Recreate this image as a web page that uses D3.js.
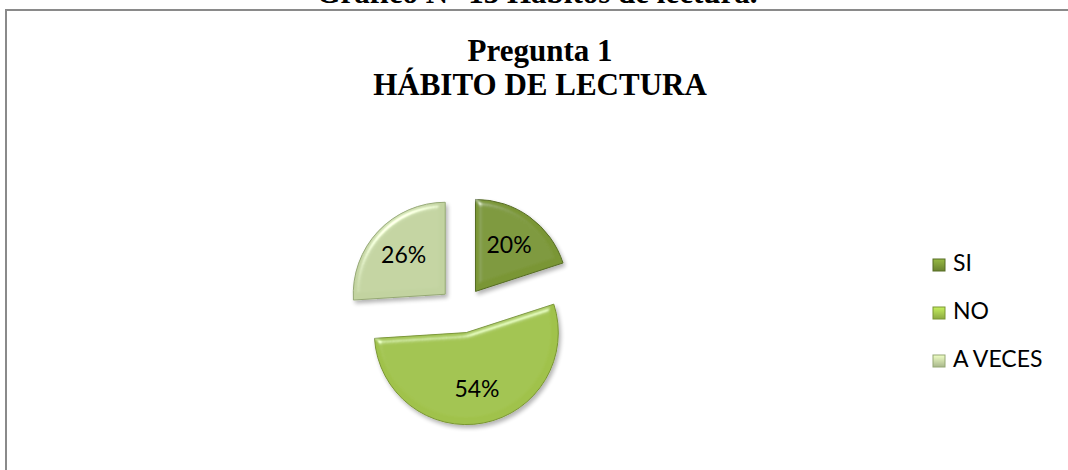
<!DOCTYPE html>
<html>
<head>
<meta charset="utf-8">
<script src="https://cdn.jsdelivr.net/npm/d3@7"></script>
<style>
  body { margin: 0; background: #fff; }
  svg { display: block; }
</style>
</head>
<body>
<div id="chart"></div>
<script>
// data
const categories = ["SI", "NO", "A VECES"];
const values = [20, 54, 26];
const valueLabels = ["20%", "54%", "26%"];
const titleLines = ["Pregunta 1", "HÁBITO DE LECTURA"];
const caption = "Gráfico N° 13 Hábitos de lectura.";

const fills = ["#7a9636", "#a0c24c", "#c2d3a0"];
const edges = ["#566c24", "#7a9632", "#95a874"];

const width = 1068, height = 470;
const svg = d3.select("#chart").append("svg")
    .attr("width", width)
    .attr("height", height);

const defs = svg.append("defs");

// soft bevel + shadow, rough imitation of the office effect
const bevel = defs.append("filter").attr("id", "bevel")
    .attr("x", "-10%").attr("y", "-10%").attr("width", "130%").attr("height", "130%");
bevel.append("feGaussianBlur").attr("in", "SourceAlpha").attr("stdDeviation", 3).attr("result", "blur");
const spec = bevel.append("feSpecularLighting")
    .attr("in", "blur").attr("surfaceScale", 4).attr("specularConstant", 0.5)
    .attr("specularExponent", 35).attr("lighting-color", "#ffffff").attr("result", "spec");
spec.append("feDistantLight").attr("azimuth", 235).attr("elevation", 40);
bevel.append("feComposite").attr("in", "spec").attr("in2", "SourceAlpha").attr("operator", "in").attr("result", "specIn");
bevel.append("feComposite").attr("in", "SourceGraphic").attr("in2", "specIn")
    .attr("operator", "arithmetic").attr("k1", 0).attr("k2", 1).attr("k3", 1).attr("k4", 0).attr("result", "lit");
bevel.append("feGaussianBlur").attr("in", "SourceAlpha").attr("stdDeviation", 2).attr("result", "sblur");
bevel.append("feOffset").attr("in", "sblur").attr("dx", 2).attr("dy", 3).attr("result", "soff");
bevel.append("feComponentTransfer").attr("in", "soff").attr("result", "shadow")
  .append("feFuncA").attr("type", "linear").attr("slope", 0.3);
const merge = bevel.append("feMerge");
merge.append("feMergeNode").attr("in", "shadow");
merge.append("feMergeNode").attr("in", "lit");

// legend key gradients
fills.forEach((c, i) => {
  const g = defs.append("linearGradient").attr("id", "key" + i)
      .attr("x1", 0).attr("y1", 0).attr("x2", 0).attr("y2", 1);
  g.append("stop").attr("offset", "0%").attr("stop-color", d3.color(c).brighter(0.6));
  g.append("stop").attr("offset", "100%").attr("stop-color", d3.color(c).darker(0.4));
});

// chart area border (runs off the right and bottom of the picture)
svg.append("rect")
    .attr("x", 6).attr("y", 10)
    .attr("width", width + 20).attr("height", height + 20)
    .attr("fill", "none")
    .attr("stroke", "#8a8a8a")
    .attr("stroke-width", 2);

// caption above, clipped by the top edge like in the page scan
svg.append("text")
    .attr("x", 537).attr("y", 3)
    .attr("text-anchor", "middle")
    .attr("font-family", "'Liberation Serif', 'Times New Roman', serif")
    .attr("font-weight", "bold")
    .attr("font-size", 31)
    .text(caption);

// title
const title = svg.append("text")
    .attr("text-anchor", "middle")
    .attr("font-family", "'Liberation Serif', 'Times New Roman', serif")
    .attr("font-weight", "bold")
    .attr("font-size", 31)
    .attr("fill", "#000");
titleLines.forEach((t, i) => {
  title.append("tspan").attr("x", 540).attr("y", 61 + i * 34).text(t);
});

// pie
const cx = 462, cy = 310, radius = 92, explode = 23;
const pie = d3.pie().sort(null).value(d => d);
const arcs = pie(values);
const arc = d3.arc().innerRadius(0).outerRadius(radius);
const labelArc = d3.arc().innerRadius(radius * 0.62).outerRadius(radius * 0.62);

const pieG = svg.append("g").attr("transform", `translate(${cx},${cy})`);

const slice = pieG.selectAll("g.slice")
  .data(arcs)
  .enter().append("g")
    .attr("class", "slice")
    .attr("transform", d => {
      const a = (d.startAngle + d.endAngle) / 2;
      return `translate(${Math.sin(a) * explode},${-Math.cos(a) * explode})`;
    });

slice.append("path")
    .attr("d", arc)
    .attr("fill", (d, i) => fills[i])
    .attr("stroke", (d, i) => edges[i])
    .attr("stroke-width", 1)
    .attr("filter", "url(#bevel)");

slice.append("text")
    .attr("transform", d => `translate(${labelArc.centroid(d)})`)
    .attr("dy", "0.35em")
    .attr("text-anchor", "middle")
    .attr("font-family", "Lato, 'Open Sans', sans-serif")
    .attr("font-size", 23)
    .attr("fill", "#000")
    .text((d, i) => valueLabels[i]);

// legend
const legend = svg.append("g").attr("transform", "translate(933,259)");
const item = legend.selectAll("g")
  .data(categories)
  .enter().append("g")
    .attr("transform", (d, i) => `translate(0,${i * 48})`);

item.append("rect")
    .attr("width", 12).attr("height", 12)
    .attr("fill", (d, i) => `url(#key${i})`)
    .attr("stroke", (d, i) => edges[i])
    .attr("stroke-width", 1);

item.append("text")
    .attr("x", 20).attr("y", 12)
    .attr("font-family", "Lato, 'Open Sans', sans-serif")
    .attr("font-size", 23)
    .attr("fill", "#000")
    .text(d => d);
</script>
</body>
</html>
